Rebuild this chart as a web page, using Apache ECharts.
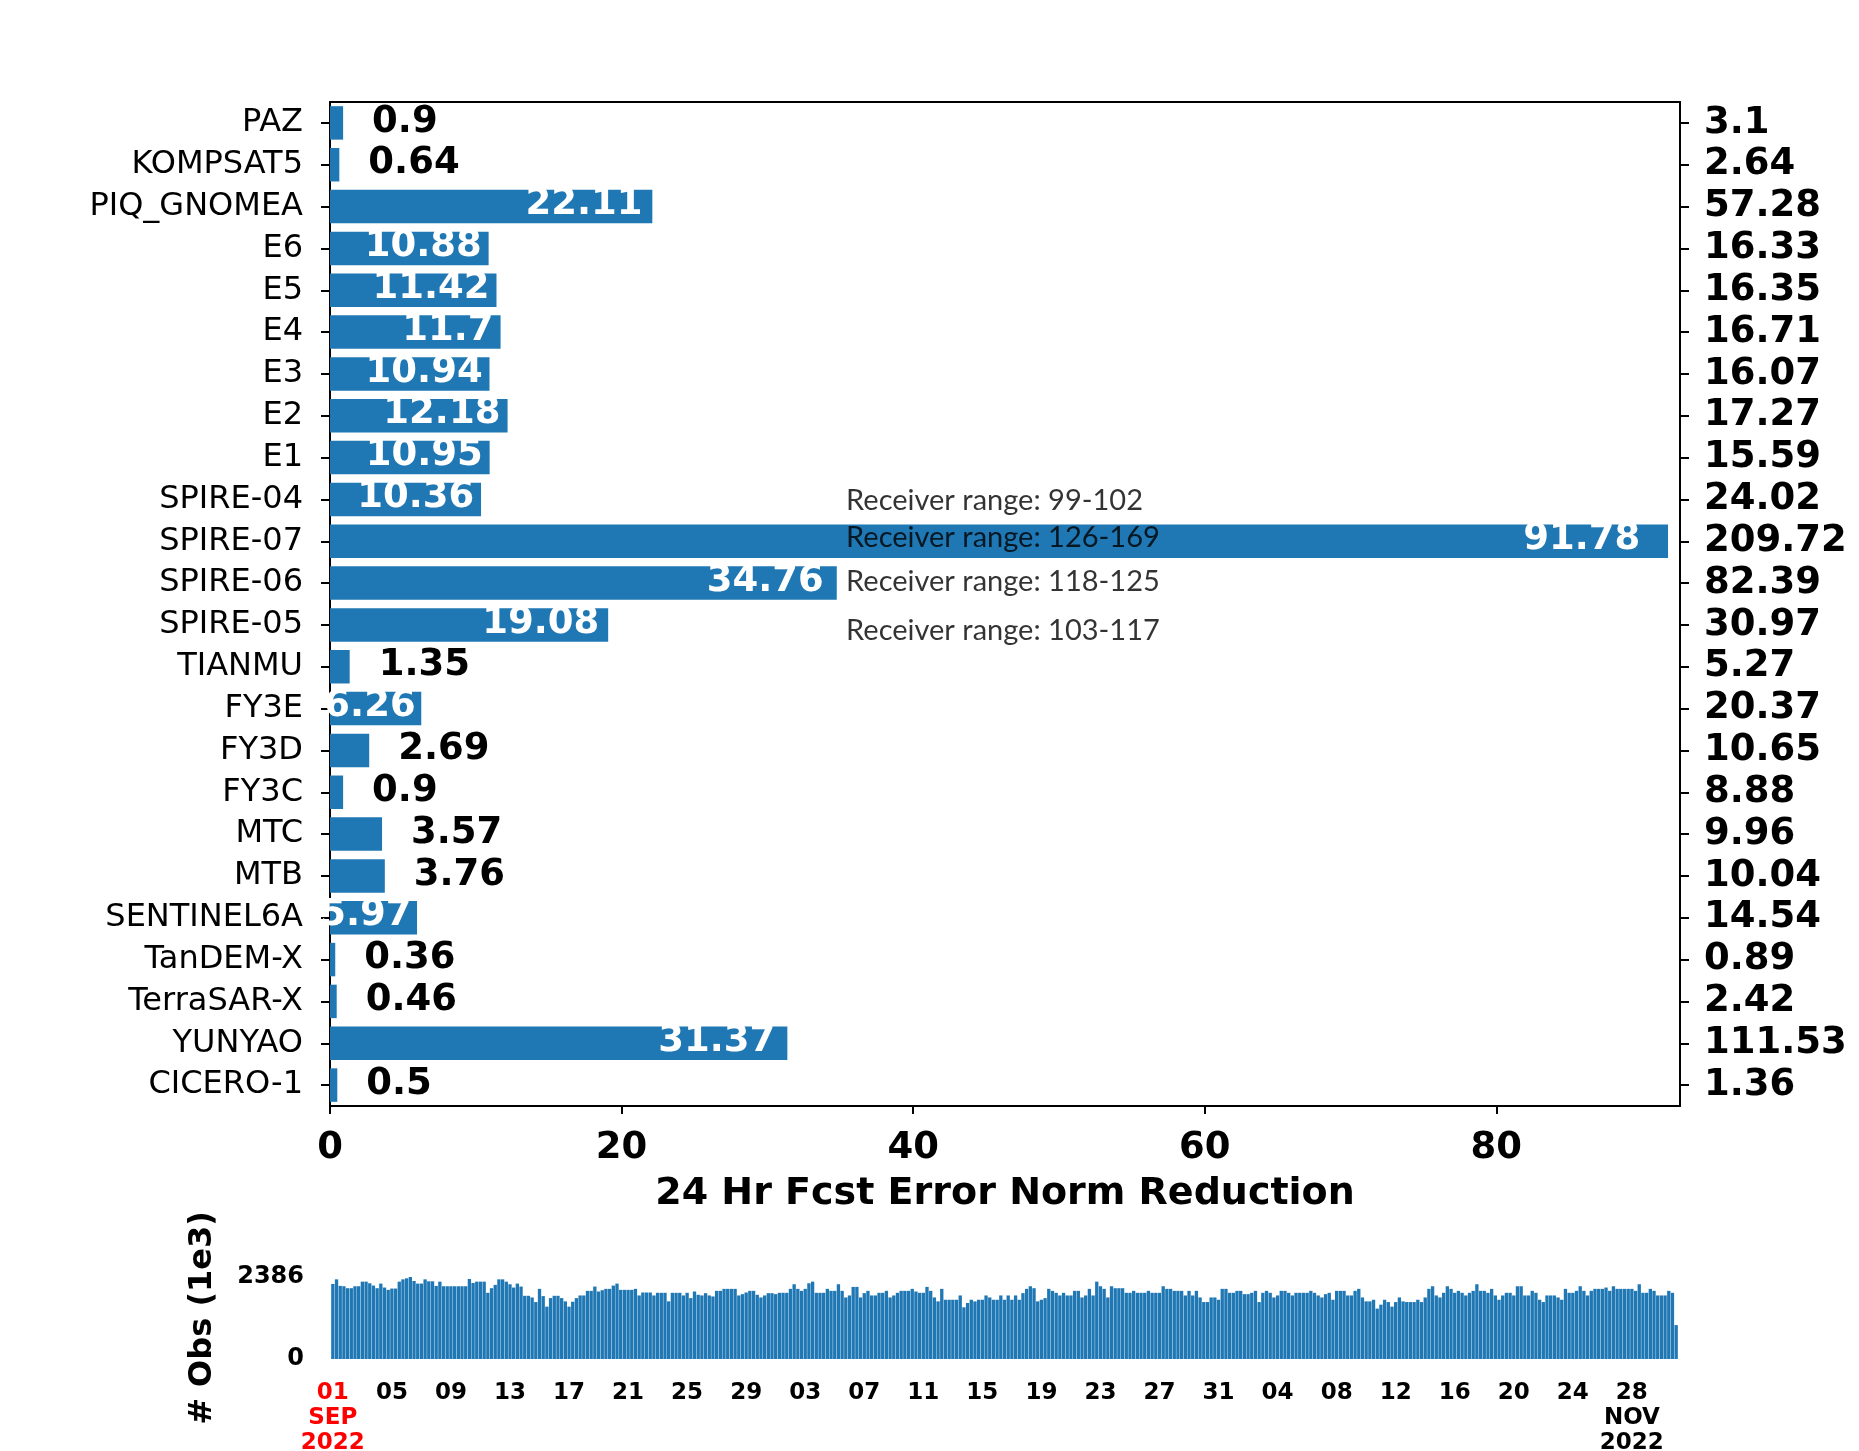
<!DOCTYPE html>
<html>
<head>
<meta charset="utf-8">
<script src="https://cdn.jsdelivr.net/npm/echarts@6/dist/echarts.min.js"></script>
<style>
  html, body { margin: 0; padding: 0; background: #fff; }
  #chart { width: 1859px; height: 1451px; }
</style>
</head>
<body>
<div id="chart"></div>
<script>
// ---------------- DATA ----------------
const categories = ['PAZ', 'KOMPSAT5', 'PIQ_GNOMEA', 'E6', 'E5', 'E4', 'E3', 'E2', 'E1',
  'SPIRE-04', 'SPIRE-07', 'SPIRE-06', 'SPIRE-05', 'TIANMU', 'FY3E', 'FY3D', 'FY3C',
  'MTC', 'MTB', 'SENTINEL6A', 'TanDEM-X', 'TerraSAR-X', 'YUNYAO', 'CICERO-1'];

const fcstReduction = [0.9, 0.64, 22.11, 10.88, 11.42, 11.7, 10.94, 12.18, 10.95,
  10.36, 91.78, 34.76, 19.08, 1.35, 6.26, 2.69, 0.9,
  3.57, 3.76, 5.97, 0.36, 0.46, 31.37, 0.5];

const rightLabels = ['3.1', '2.64', '57.28', '16.33', '16.35', '16.71', '16.07', '17.27', '15.59',
  '24.02', '209.72', '82.39', '30.97', '5.27', '20.37', '10.65', '8.88',
  '9.96', '10.04', '14.54', '0.89', '2.42', '111.53', '1.36'];

const xAxisTitle = '24 Hr Fcst Error Norm Reduction';

const annotRows = ['SPIRE-04', 'SPIRE-07', 'SPIRE-06', 'SPIRE-05'];
const annotTexts = ['Receiver range: 99-102', 'Receiver range: 126-169',
  'Receiver range: 118-125', 'Receiver range: 103-117'];

// observation counts (1e3), 6-hourly from 2022-09-01 00Z
const obsStartUTC = Date.UTC(2022, 8, 1);
const obsStepHours = 6;
const obsMax = 2386;
const obsCounts = [
  2184, 2318, 2127, 2117, 2060, 2060, 2117, 2117, 2251, 2251,
  2203, 2136, 2060, 2194, 2079, 2012, 2050, 2050, 2251, 2318,
  2347, 2386, 2270, 2194, 2194, 2318, 2261, 2261, 2127, 2251,
  2117, 2117, 2117, 2117, 2117, 2117, 2117, 2328, 2213, 2251,
  2251, 2251, 1926, 2060, 2156, 2318, 2318, 2251, 2175, 2079,
  2194, 2108, 1839, 1839, 1791, 1657, 2041, 1830, 1523, 1772,
  1839, 1839, 1772, 1677, 1523, 1667, 1772, 1849, 1849, 1983,
  1983, 2108, 1964, 2002, 2041, 2041, 2136, 2194, 2012, 2012,
  2012, 2012, 2041, 1849, 1935, 1935, 1935, 1849, 1926, 1926,
  1926, 1677, 1926, 1926, 1926, 1849, 1926, 1772, 1964, 1868,
  1849, 1916, 1849, 1820, 1983, 1983, 2041, 2041, 2041, 2041,
  1849, 1887, 1935, 1983, 1983, 1868, 1791, 1849, 1916, 1916,
  1887, 1926, 1926, 1926, 2041, 2175, 2041, 1983, 2041, 2203,
  2251, 1926, 1926, 1926, 2041, 1983, 1983, 2175, 1983, 1791,
  1849, 2098, 2098, 1791, 1916, 1983, 1849, 1849, 1926, 1926,
  1983, 1791, 1849, 1926, 1983, 1983, 1983, 2041, 1964, 1926,
  1926, 2098, 1983, 1791, 1677, 2041, 1724, 1724, 1724, 1724,
  1849, 1504, 1629, 1724, 1677, 1724, 1724, 1849, 1791, 1724,
  1724, 1849, 1724, 1849, 1724, 1849, 1724, 1916, 2041, 2117,
  2060, 1677, 1724, 1772, 2041, 1983, 1926, 1849, 1926, 1849,
  1849, 1983, 1983, 1791, 1849, 2041, 1849, 2251, 2117, 2041,
  1791, 2117, 2060, 2060, 2060, 1926, 1926, 1983, 1926, 1926,
  1926, 1983, 1926, 1926, 1926, 2117, 2041, 2041, 1983, 1983,
  1983, 1849, 1983, 1849, 1983, 1791, 1657, 1657, 1791, 1791,
  1724, 2041, 2041, 1926, 1926, 1983, 1983, 1887, 1887, 1926,
  1983, 1657, 1926, 1983, 1926, 1791, 1849, 1983, 1983, 1926,
  1849, 1926, 1926, 1926, 1926, 1983, 1926, 1849, 1791, 1887,
  1926, 1724, 1983, 1983, 1983, 1849, 1849, 1983, 2041, 1791,
  1677, 1677, 1724, 1466, 1581, 1724, 1657, 1523, 1657, 1791,
  1677, 1657, 1657, 1657, 1724, 1657, 1791, 2041, 2117, 1849,
  1791, 1926, 2117, 2041, 1926, 1983, 1926, 1849, 1926, 1983,
  2175, 1983, 1983, 1926, 2041, 1849, 1724, 1849, 1926, 1926,
  1849, 2117, 2117, 1849, 1849, 1983, 1926, 1724, 1657, 1849,
  1849, 1849, 1791, 1724, 2041, 1926, 1926, 1983, 2117, 1983,
  1849, 1983, 2041, 2041, 2041, 2079, 1983, 2117, 2041, 2041,
  2041, 2041, 2041, 1983, 2175, 1926, 1926, 2041, 1983, 1849,
  1849, 1849, 1983, 1926, 987
];
const obsYLabel = '# Obs (1e3)';
const dayTickEvery = 4; // days between date labels

// ---------------- STYLE ----------------
const annotNudgeY = [1, -4, -1, 6]; // small vertical label nudges (px)

// ---------------- BUILD ----------------
const MONTHS = ['JAN','FEB','MAR','APR','MAY','JUN','JUL','AUG','SEP','OCT','NOV','DEC'];
const obsTimes = obsCounts.map((_, i) => obsStartUTC + i * obsStepHours * 3600 * 1000);
const perDay = 24 / obsStepHours;
const labelStep = dayTickEvery * perDay;
const lastLabelIdx = Math.floor((obsTimes.length - 1) / labelStep) * labelStep;

const INSIDE_MIN = 5;
const barData = fcstReduction.map(v => {
  if (v > INSIDE_MIN) {
    return { value: v, label: { show: true, position: 'insideRight', distance: 4 + 0.26 * v,
      color: '#fff', offset: [0, -2] } };
  }
  return { value: v, label: { show: true, position: 'right', distance: 29, color: '#000', offset: [0, -1] } };
});

const FONT = 'DejaVu Sans';
const chart = echarts.init(document.getElementById('chart'), null, { renderer: 'canvas' });

const option = {
  backgroundColor: '#fff',
  animation: false,
  textStyle: { fontFamily: FONT },
  grid: [
    { left: 330, top: 102, width: 1350, height: 1004, containLabel: false, outerBoundsMode: 'none' },
    { left: 331, top: 1277, width: 1347, height: 82, containLabel: false, outerBoundsMode: 'none' }
  ],
  xAxis: [
    {
      type: 'value', gridIndex: 0, min: 0, max: 92.6, interval: 20, position: 'bottom',
      axisLine: { show: true, onZero: false, lineStyle: { color: '#000', width: 2 } },
      axisTick: { show: true, length: 8, lineStyle: { color: '#000', width: 2 } },
      axisLabel: { show: true, showMaxLabel: false, margin: 24, color: '#000',
        fontFamily: FONT, fontWeight: 'bold', fontSize: 37 },
      splitLine: { show: false },
      name: xAxisTitle, nameLocation: 'middle', nameGap: 69,
      nameTextStyle: { color: '#000', fontFamily: FONT, fontWeight: 'bold', fontSize: 38 }
    },
    {
      type: 'value', gridIndex: 0, min: 0, max: 92.6, position: 'top',
      axisLine: { show: true, onZero: false, lineStyle: { color: '#000', width: 2 } },
      axisTick: { show: false }, axisLabel: { show: false }, splitLine: { show: false }
    },
    {
      type: 'category', gridIndex: 1, data: obsTimes, boundaryGap: true,
      axisLine: { show: false }, axisTick: { show: false }, splitLine: { show: false },
      axisLabel: {
        show: true, margin: 22,
        interval: (idx) => idx % labelStep === 0,
        fontFamily: FONT, fontWeight: 'bold', fontSize: 23, color: '#000', lineHeight: 25,
        formatter: (val, idx) => {
          const d = new Date(Number(val));
          const dd = String(d.getUTCDate()).padStart(2, '0');
          if (idx === 0) {
            return '{r|' + dd + '}\n{r|' + MONTHS[d.getUTCMonth()] + '}\n{r|' + d.getUTCFullYear() + '}';
          }
          if (idx === lastLabelIdx) {
            return dd + '\n' + MONTHS[d.getUTCMonth()] + '\n' + d.getUTCFullYear();
          }
          return dd;
        },
        rich: { r: { color: '#ff0000', fontFamily: FONT, fontWeight: 'bold', fontSize: 23, lineHeight: 25 } }
      }
    }
  ],
  yAxis: [
    {
      type: 'category', gridIndex: 0, data: categories, inverse: true, position: 'left',
      axisLine: { show: true, onZero: false, lineStyle: { color: '#000', width: 2 } },
      axisTick: { show: true, alignWithLabel: true, length: 9, lineStyle: { color: '#000', width: 2 } },
      axisLabel: { show: true, interval: 0, margin: 27, color: '#000', fontFamily: FONT, fontSize: 32 },
      splitLine: { show: false }
    },
    {
      type: 'category', gridIndex: 0, data: categories, inverse: true, position: 'right',
      axisLine: { show: true, onZero: false, lineStyle: { color: '#000', width: 2 } },
      axisTick: { show: true, alignWithLabel: true, length: 9, lineStyle: { color: '#000', width: 2 } },
      axisLabel: { show: true, interval: 0, margin: 24, color: '#000', fontFamily: FONT, fontWeight: 'bold', fontSize: 37,
        formatter: (v, i) => rightLabels[i] },
      splitLine: { show: false }
    },
    {
      type: 'value', gridIndex: 1, min: 0, max: obsMax, interval: obsMax,
      axisLine: { show: false }, axisTick: { show: false }, splitLine: { show: false },
      axisLabel: { show: true, margin: 27, color: '#000', fontFamily: FONT, fontWeight: 'bold', fontSize: 24,
        formatter: v => String(v) },
      name: obsYLabel, nameLocation: 'middle', nameGap: 112, nameRotate: 90,
      nameTextStyle: { color: '#000', fontFamily: FONT, fontWeight: 'bold', fontSize: 32 }
    }
  ],
  series: [
    {
      type: 'bar', xAxisIndex: 0, yAxisIndex: 0, data: barData,
      barCategoryGap: '20%', itemStyle: { color: '#1f77b4' },
      label: { show: true, fontFamily: FONT, fontWeight: 'bold', fontSize: 37 },
      z: 2
    },
    {
      type: 'scatter', xAxisIndex: 0, yAxisIndex: 0, symbolSize: 0, silent: true,
      data: annotRows.map((r, i) => ({ value: [35.4, r], name: annotTexts[i],
        label: { offset: [0, annotNudgeY[i]] } })),
      label: { show: true, position: 'right', distance: 0, formatter: p => p.name,
        color: '#000', fontFamily: 'Lato', fontSize: 29 },
      z: 5
    },
    {
      type: 'bar', xAxisIndex: 2, yAxisIndex: 2, data: obsCounts,
      barWidth: '90%', itemStyle: { color: '#1f77b4' }
    }
  ]
};
chart.setOption(option);
</script>
</body>
</html>
